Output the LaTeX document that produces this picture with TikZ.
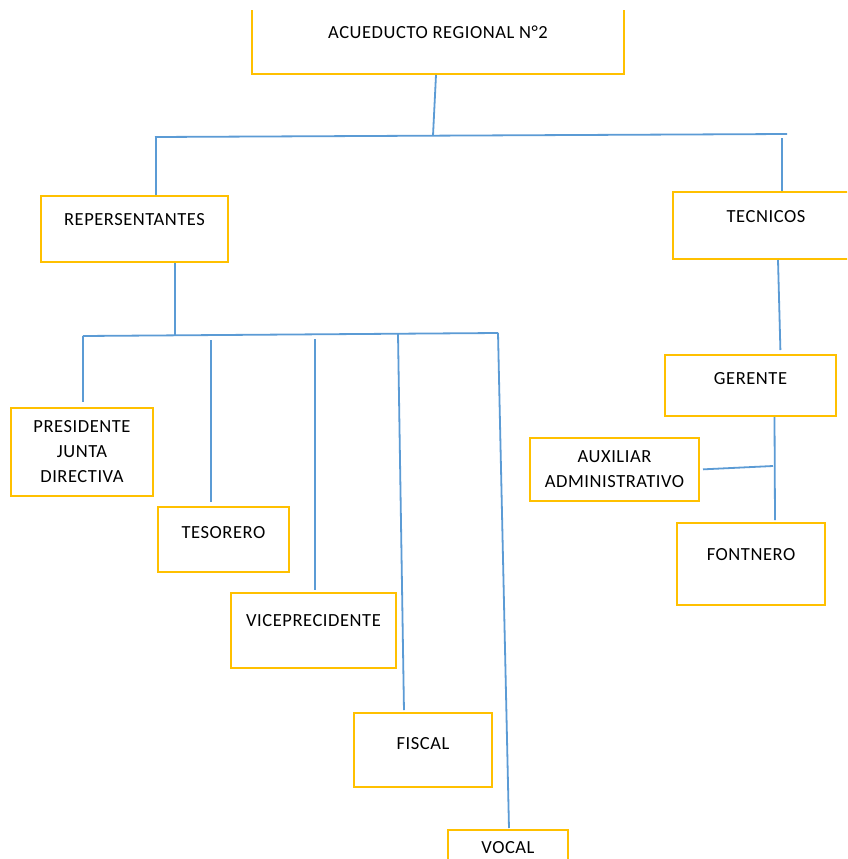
\documentclass[tikz,border=0pt]{standalone}
\usepackage{fontspec}
\setmainfont[LetterSpace=3]{Carlito}
\usetikzlibrary{positioning}
\definecolor{cajaamarilla}{RGB}{255,192,0}
\definecolor{lineaazul}{RGB}{91,155,213}

\begin{document}
\begin{tikzpicture}[x=1pt,y=-1pt,
  caja/.style={rectangle,draw=cajaamarilla,line width=2pt,inner sep=0pt,anchor=north west,
    font=\fontsize{18.5}{25}\selectfont},
  linea/.style={draw=lineaazul,line width=1.8pt}]
  \useasboundingbox[fill=white] (0,0) rectangle (847,859);
  \clip (0,11) rectangle (847,859);

  \node[caja,minimum width=372,text height=57,text depth=36] (acu) at (251,-20) {ACUEDUCTO REGIONAL N°2};
  \node[caja,minimum width=187,text height=29,text depth=37] (rep) at (40,195) {REPERSENTANTES};
  \node[caja,minimum width=186,text height=30,text depth=37] (tec) at (672,191) {TECNICOS};
  \node[caja,minimum width=171,text height=29,text depth=32] (ger) at (664,354) {GERENTE};
  \node[caja,minimum width=169,minimum height=63,align=center] (aux) at (529,437) {AUXILIAR\\ADMINISTRATIVO};
  \node[caja,minimum width=148,text height=37,text depth=45] (fon) at (676,522) {FONTNERO};
  \node[caja,minimum width=142,minimum height=88,align=center] (pre) at (10,407) {PRESIDENTE\\JUNTA\\DIRECTIVA};
  \node[caja,minimum width=131,text height=31,text depth=34] (tes) at (157,506) {TESORERO};
  \node[caja,minimum width=165,text height=33,text depth=42] (vic) at (230,592) {VICEPRECIDENTE};
  \node[caja,minimum width=138,text height=36,text depth=38] (fis) at (353,712) {FISCAL};
  \node[caja,minimum width=120,text height=23,text depth=40] (voc) at (447,829) {VOCAL};

  % barra superior
  \coordinate (b1l) at (155,137);
  \coordinate (b1r) at (787,134);
  \coordinate (b1m) at (433,135.5);
  \coordinate (b1a) at (156,137);
  \coordinate (b1b) at (782,135);
  \draw[linea] (b1l) -- (b1r);
  \draw[linea] ([xshift=-2]acu.south) -- (b1m);
  \draw[linea] (b1a) -- (b1a |- rep.north);
  \draw[linea,shorten <=3pt] (b1b) -- (b1b |- tec.north);

  % barra de representantes
  \coordinate (b2l) at (83,336);
  \coordinate (b2r) at (498,333);
  \coordinate (b2m) at (175,335);
  \coordinate (b2b) at (211,335);
  \coordinate (b2c) at (315,335);
  \coordinate (b2d) at (398,334);
  \draw[linea] (b2l) -- (b2r);
  \draw[linea] (b2m |- rep.south) -- (b2m);
  \draw[linea,shorten >=5pt] (b2l) -- (b2l |- pre.north);
  \draw[linea,shorten <=5pt,shorten >=4pt] (b2b) -- (b2b |- tes.north);
  \draw[linea,shorten <=4pt,shorten >=2pt] (b2c) -- (b2c |- vic.north);
  \draw[linea,shorten >=2pt] (b2d) -- ([xshift=-19]fis.north);
  \draw[linea,shorten >=1pt] (b2r) -- ([xshift=1]voc.north);

  % tecnicos
  \coordinate (j3) at (773,466);
  \draw[linea,shorten >=4pt] ([xshift=12]tec.south) -- ([xshift=30]ger.north);
  \draw[linea,shorten >=2pt] ([xshift=24]ger.south) -- ([xshift=24]fon.north);
  \draw[linea,shorten <=3pt] (aux.east) -- (j3);
\end{tikzpicture}
\end{document}
